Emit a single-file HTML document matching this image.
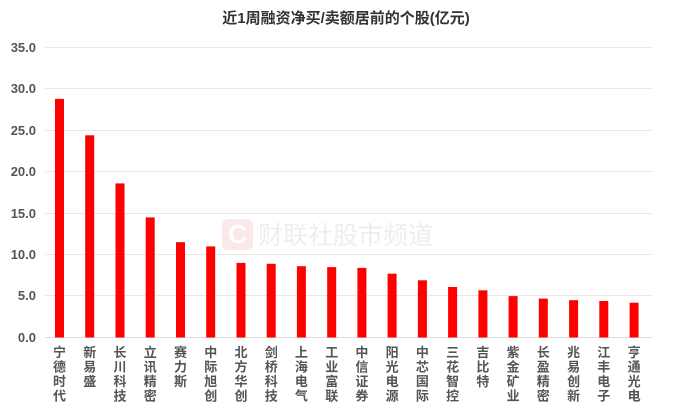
<!DOCTYPE html>
<html><head><meta charset="utf-8"><style>
html,body{margin:0;padding:0;background:#fff;}
svg text{font-family:"Liberation Sans","Noto Sans CJK SC",sans-serif;}
</style></head><body>
<svg width="692" height="409" xmlns="http://www.w3.org/2000/svg">
<text x="346" y="23" text-anchor="middle" font-size="15" font-weight="bold" fill="#333">近1周融资净买/卖额居前的个股(亿元)</text>
<g stroke="#e8e8e8" stroke-width="1">
<line x1="45" x2="652" y1="47.5" y2="47.5"/><line x1="45" x2="652" y1="88.5" y2="88.5"/>
<line x1="45" x2="652" y1="130.5" y2="130.5"/><line x1="45" x2="652" y1="171.5" y2="171.5"/>
<line x1="45" x2="652" y1="213.5" y2="213.5"/><line x1="45" x2="652" y1="254.5" y2="254.5"/>
<line x1="45" x2="652" y1="295.5" y2="295.5"/><line x1="45" x2="652" y1="337.5" y2="337.5" stroke="#ddd"/>
</g>
<g font-size="13" font-weight="bold" fill="#555" text-anchor="end">
<text x="36" y="52">35.0</text><text x="36" y="93">30.0</text><text x="36" y="135">25.0</text>
<text x="36" y="176">20.0</text><text x="36" y="218">15.0</text><text x="36" y="259">10.0</text>
<text x="36" y="300">5.0</text><text x="36" y="342">0.0</text>
</g>
<g opacity="0.5">
<rect x="222" y="219" width="31" height="31" rx="6" fill="#f8d5d5"/>
<text x="237.5" y="243" text-anchor="middle" font-size="26" font-weight="bold" fill="#fff">C</text>
<text x="258" y="244" font-size="25" fill="#ddd">财联社股市频道</text>
</g>
<g fill="#ff0000">
<rect x="55" y="98.9" width="9" height="238.6"/>
<rect x="85.2" y="135.3" width="9" height="202.2"/>
<rect x="115.5" y="183.4" width="9" height="154.1"/>
<rect x="145.7" y="217.4" width="9" height="120.1"/>
<rect x="176" y="242.2" width="9" height="95.3"/>
<rect x="206.2" y="246.4" width="9" height="91.1"/>
<rect x="236.5" y="262.9" width="9" height="74.6"/>
<rect x="266.7" y="263.8" width="9" height="73.7"/>
<rect x="296.9" y="266.2" width="9" height="71.3"/>
<rect x="327.2" y="267.1" width="9" height="70.4"/>
<rect x="357.4" y="267.9" width="9" height="69.6"/>
<rect x="387.6" y="273.7" width="9" height="63.8"/>
<rect x="417.9" y="280.3" width="9" height="57.2"/>
<rect x="448.1" y="287" width="9" height="50.5"/>
<rect x="478.4" y="290.3" width="9" height="47.2"/>
<rect x="508.6" y="296.1" width="9" height="41.4"/>
<rect x="538.8" y="298.6" width="9" height="38.9"/>
<rect x="569.1" y="300.2" width="9" height="37.3"/>
<rect x="599.3" y="301" width="9" height="36.5"/>
<rect x="629.6" y="302.7" width="9" height="34.8"/>
</g>
<g font-size="13" font-weight="bold" fill="#555" text-anchor="middle">
<text y="357"><tspan x="59.5">宁</tspan><tspan x="59.5" dy="14.5">德</tspan><tspan x="59.5" dy="14.5">时</tspan><tspan x="59.5" dy="14.5">代</tspan></text>
<text y="357"><tspan x="89.7">新</tspan><tspan x="89.7" dy="14.5">易</tspan><tspan x="89.7" dy="14.5">盛</tspan></text>
<text y="357"><tspan x="120">长</tspan><tspan x="120" dy="14.5">川</tspan><tspan x="120" dy="14.5">科</tspan><tspan x="120" dy="14.5">技</tspan></text>
<text y="357"><tspan x="150.2">立</tspan><tspan x="150.2" dy="14.5">讯</tspan><tspan x="150.2" dy="14.5">精</tspan><tspan x="150.2" dy="14.5">密</tspan></text>
<text y="357"><tspan x="180.5">赛</tspan><tspan x="180.5" dy="14.5">力</tspan><tspan x="180.5" dy="14.5">斯</tspan></text>
<text y="357"><tspan x="210.7">中</tspan><tspan x="210.7" dy="14.5">际</tspan><tspan x="210.7" dy="14.5">旭</tspan><tspan x="210.7" dy="14.5">创</tspan></text>
<text y="357"><tspan x="241">北</tspan><tspan x="241" dy="14.5">方</tspan><tspan x="241" dy="14.5">华</tspan><tspan x="241" dy="14.5">创</tspan></text>
<text y="357"><tspan x="271.2">剑</tspan><tspan x="271.2" dy="14.5">桥</tspan><tspan x="271.2" dy="14.5">科</tspan><tspan x="271.2" dy="14.5">技</tspan></text>
<text y="357"><tspan x="301.4">上</tspan><tspan x="301.4" dy="14.5">海</tspan><tspan x="301.4" dy="14.5">电</tspan><tspan x="301.4" dy="14.5">气</tspan></text>
<text y="357"><tspan x="331.7">工</tspan><tspan x="331.7" dy="14.5">业</tspan><tspan x="331.7" dy="14.5">富</tspan><tspan x="331.7" dy="14.5">联</tspan></text>
<text y="357"><tspan x="361.9">中</tspan><tspan x="361.9" dy="14.5">信</tspan><tspan x="361.9" dy="14.5">证</tspan><tspan x="361.9" dy="14.5">券</tspan></text>
<text y="357"><tspan x="392.1">阳</tspan><tspan x="392.1" dy="14.5">光</tspan><tspan x="392.1" dy="14.5">电</tspan><tspan x="392.1" dy="14.5">源</tspan></text>
<text y="357"><tspan x="422.4">中</tspan><tspan x="422.4" dy="14.5">芯</tspan><tspan x="422.4" dy="14.5">国</tspan><tspan x="422.4" dy="14.5">际</tspan></text>
<text y="357"><tspan x="452.6">三</tspan><tspan x="452.6" dy="14.5">花</tspan><tspan x="452.6" dy="14.5">智</tspan><tspan x="452.6" dy="14.5">控</tspan></text>
<text y="357"><tspan x="482.9">吉</tspan><tspan x="482.9" dy="14.5">比</tspan><tspan x="482.9" dy="14.5">特</tspan></text>
<text y="357"><tspan x="513.1">紫</tspan><tspan x="513.1" dy="14.5">金</tspan><tspan x="513.1" dy="14.5">矿</tspan><tspan x="513.1" dy="14.5">业</tspan></text>
<text y="357"><tspan x="543.3">长</tspan><tspan x="543.3" dy="14.5">盈</tspan><tspan x="543.3" dy="14.5">精</tspan><tspan x="543.3" dy="14.5">密</tspan></text>
<text y="357"><tspan x="573.6">兆</tspan><tspan x="573.6" dy="14.5">易</tspan><tspan x="573.6" dy="14.5">创</tspan><tspan x="573.6" dy="14.5">新</tspan></text>
<text y="357"><tspan x="603.8">江</tspan><tspan x="603.8" dy="14.5">丰</tspan><tspan x="603.8" dy="14.5">电</tspan><tspan x="603.8" dy="14.5">子</tspan></text>
<text y="357"><tspan x="634.1">亨</tspan><tspan x="634.1" dy="14.5">通</tspan><tspan x="634.1" dy="14.5">光</tspan><tspan x="634.1" dy="14.5">电</tspan></text>
</g>
</svg>
</body></html>
